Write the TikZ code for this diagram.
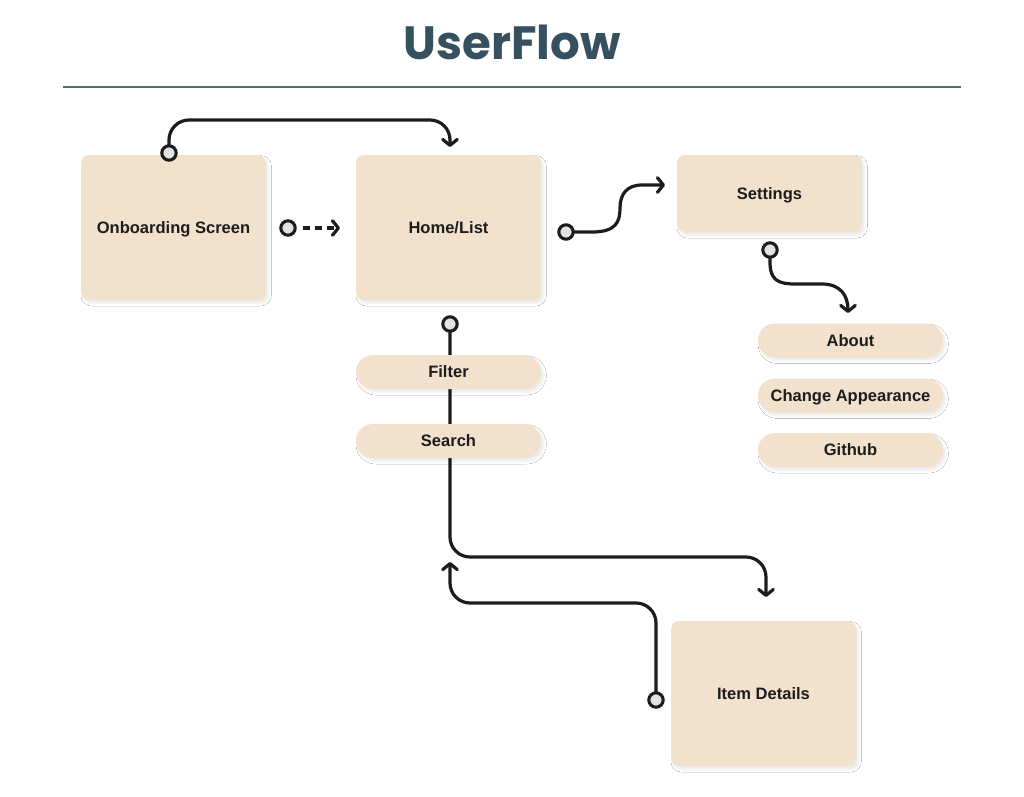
\documentclass[tikz,border=0pt]{standalone}
\usepackage{fontspec}
\setmainfont{Liberation Sans}
\newfontfamily\titlefont{Poppins}
\usetikzlibrary{arrows.meta,shadows.blur}
\definecolor{boxfill}{HTML}{F2E2CD}
\definecolor{ink}{HTML}{1C1C1C}
\definecolor{titlecol}{HTML}{36505F}
\definecolor{rulecol}{HTML}{4E7169}
\definecolor{dotfill}{HTML}{E2E2E2}
\begin{document}
\begin{tikzpicture}[x=0.75pt,y=-0.75pt,
  card/.style={fill=boxfill, rounded corners=6pt, minimum width=138.75pt,
    font=\bfseries\fontsize{12.4}{14}\selectfont, text=ink, inner sep=0pt,
    text height=8.9pt, text depth=0pt,
    blur shadow={shadow xshift=2pt, shadow yshift=-2.5pt, shadow blur radius=2pt, shadow opacity=8}},
  bigcard/.style={card, minimum height=108.75pt},
  setcard/.style={card, minimum height=57.75pt},
  pill/.style={card, minimum height=25.5pt, rounded corners=12.7pt},
  conn/.style={draw=ink, line width=2.4pt, line cap=round, line join=round,
    -{Straight Barb[length=4.5pt,width=11pt,round]}},
  dot/.style={circle, draw=ink, fill=dotfill, line width=2.3pt, minimum size=10.8pt, inner sep=0pt},
]
\fill[white] (0,0) rectangle (1024,796);
\useasboundingbox (0,0) rectangle (1024,796);

\node[font=\titlefont\bfseries\fontsize{35}{38}\selectfont, text=titlecol] (title) at (512,42) {UserFlow};
\draw[rulecol, line width=1.5pt] (63,87) -- (961,87);

% cards
\node[bigcard] (onb) at (173.5,227.5) {Onboarding Screen};
\node[bigcard] (home) at (448.5,227.5) {Home/List};
\node[setcard] (settings) at (769.5,193.5) {Settings};
\node[pill] (about) at (850.5,340.5) {About};
\node[pill] (change) at (850.5,395.5) {Change Appearance};
\node[pill] (github) at (850.5,450) {Github};
\node[bigcard] (item) at (763.5,693.5) {Item Details};

% connector anchor points
\coordinate (p1) at (169,153);
\coordinate (a1) at (450,147);
\coordinate (p2) at (288,228);
\coordinate (a2) at (340,228);
\coordinate (p3) at (566,232);
\coordinate (a3) at (665,185);
\coordinate (p4) at (770,250);
\coordinate (a4) at (848,313);
\coordinate (p5) at (450,324);
\coordinate (a5) at (766,597);
\coordinate (p6) at (656,700);
\coordinate (a6) at (450,562);

% connectors
\draw[conn, rounded corners=15pt] (p1) -- (p1 |- 0,120) -- (a1 |- 0,120) -- (a1);
\draw[conn, dash pattern=on 5.5pt off 3.5pt, line cap=butt] ([xshift=11pt]p2) -- (a2);
\draw[conn] (p3) -- (592,232) .. controls (616,232) and (620,222) .. (620,208)
  .. controls (620,194) and (627,185) .. (642,185) -- (a3);
\draw[conn] (p4) -- (770,262) .. controls (770,280) and (778,284) .. (795,284)
  -- (822,284) .. controls (840,284) and (848,295) .. (a4);
\draw[conn, rounded corners=15pt] (p5) -- (p5 |- 0,557) -- (a5 |- 0,557) -- (a5);
\draw[conn, rounded corners=15pt] (p6) -- (p6 |- 0,603) -- (a6 |- 0,603) -- (a6);

% pills over the vertical connector
\node[pill] (filter) at (448.5,372) {Filter};
\node[pill] (search) at (448.5,441) {Search};

% start dots
\foreach \p in {p1,p2,p3,p4,p5,p6} \node[dot] (d\p) at (\p) {};
\end{tikzpicture}
\end{document}
